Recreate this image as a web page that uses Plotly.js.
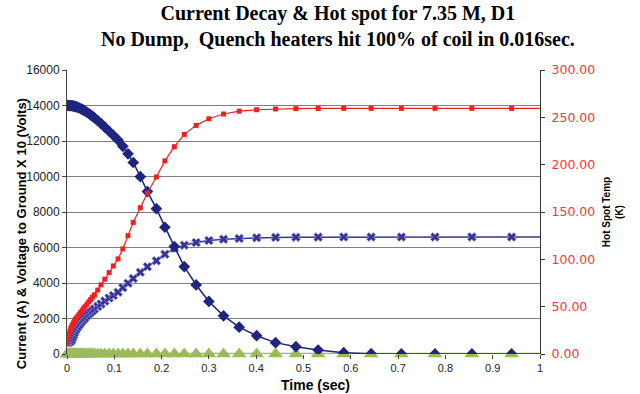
<!DOCTYPE html>
<html>
<head>
<meta charset="utf-8">
<script src="https://cdn.plot.ly/plotly-3.0.1.min.js"></script>
<style>html,body{margin:0;padding:0;background:#fff;}#chart{width:640px;height:394px;}</style>
</head>
<body>
<div id="chart"></div>
<script>
// Time (sec)
var time = [0, 0.002, 0.004, 0.006, 0.008, 0.010, 0.012, 0.014, 0.016, 0.018,
  0.020, 0.023, 0.026, 0.029, 0.032, 0.035, 0.038, 0.042, 0.046, 0.050,
  0.054, 0.058, 0.065, 0.072, 0.080, 0.089, 0.098, 0.108, 0.118, 0.129,
  0.140, 0.155, 0.170, 0.189, 0.207, 0.227, 0.248, 0.273, 0.300, 0.331,
  0.364, 0.401, 0.441, 0.484, 0.531, 0.585, 0.643, 0.707, 0.778, 0.856,
  0.940, 1.0];
// Current (A)
var current = [14000, 14000, 14000, 13995, 13990, 13985, 13975, 13965, 13950, 13935,
  13920, 13890, 13860, 13820, 13780, 13740, 13690, 13620, 13550, 13470,
  13390, 13300, 13150, 12980, 12780, 12550, 12320, 12050, 11700, 11280,
  10790, 9990, 9150, 8190, 7140, 6050, 4920, 3890, 2960, 2150,
  1510, 1030, 640, 410, 225, 75, 15, 0, 0, 0,
  0, 0];
// Voltage to ground x 10 (Volts)
var voltageX10 = [650, 650, 660, 680, 700, 790, 920, 1060, 1200, 1320,
  1420, 1540, 1650, 1760, 1860, 1950, 2040, 2150, 2250, 2350,
  2440, 2530, 2680, 2820, 2980, 3150, 3300, 3480, 3740, 3990,
  4250, 4600, 4920, 5250, 5620, 5960, 6130, 6280, 6400, 6470,
  6510, 6550, 6570, 6580, 6585, 6590, 6590, 6590, 6590, 6590,
  6590, 6590];
// Hot spot temperature (K)
var hotSpot = [11, 17, 21, 24, 27, 29, 31, 33, 35, 36.5,
  38, 40, 42, 44, 46, 48, 50, 52.5, 55, 57.5,
  60, 62.5, 67.5, 73, 79, 86, 93, 100.5, 111, 125,
  139, 154.5, 170, 187, 204, 219, 232, 241.5, 248.5, 253.5,
  256.5, 258, 258.8, 259.2, 259.4, 259.5, 259.5, 259.5, 259.5, 259.5,
  259.5, 259.5];
// Fourth series (at zero)
var other = [0, 0, 0, 0, 0, 0, 0, 0, 0, 0,
  0, 0, 0, 0, 0, 0, 0, 0, 0, 0,
  0, 0, 0, 0, 0, 0, 0, 0, 0, 0,
  0, 0, 0, 0, 0, 0, 0, 0, 0, 0,
  0, 0, 0, 0, 0, 0, 0, 0, 0, 0,
  0, 0];

var titleText = 'Current Decay &amp; Hot spot for 7.35 M, D1<br>No Dump,  Quench heaters hit 100% of coil in 0.016sec.';
var leftTitle = 'Current (A) &amp; Voltage to Ground X 10 (Volts)';
var xTitle = 'Time (sec)';
var rightTitle = 'Hot Spot Temp<br>(K)';

function sizes(s) { return time.map(function (t, i) { return i === time.length - 1 ? 0 : s; }); }

var traces = [
  { x: time, y: other, type: 'scatter', mode: 'lines+markers', cliponaxis: false,
    line: { color: '#9BBB59', width: 2.5 },
    marker: { symbol: 'triangle-up', size: sizes(13), color: '#9BBB59', opacity: 1, line: { width: 0 } }, yaxis: 'y' },
  { x: time, y: voltageX10, type: 'scatter', mode: 'lines+markers',
    line: { color: '#3B33A0', width: 1.5 },
    marker: { symbol: 'x', size: sizes(8), color: '#3B2E94', opacity: 1, line: { color: '#8DB4E2', width: 0.6 } }, yaxis: 'y' },
  { x: time, y: current, type: 'scatter', mode: 'lines+markers',
    line: { color: '#1F2480', width: 1.5 },
    marker: { symbol: 'diamond', size: sizes(9), color: '#1F2480', opacity: 1, line: { width: 0 } }, yaxis: 'y' },
  { x: time, y: hotSpot, type: 'scatter', mode: 'lines+markers',
    line: { color: '#EE2020', width: 1.2 },
    marker: { symbol: 'square', size: sizes(5), color: '#EE2020', opacity: 1, line: { width: 0 } }, yaxis: 'y2' }
];

var layout = {
  width: 640, height: 394,
  margin: { l: 67, r: 100, t: 70, b: 40 },
  paper_bgcolor: '#ffffff', plot_bgcolor: '#ffffff',
  showlegend: false,
  title: {
    text: titleText,
    font: { family: 'Liberation Serif', size: 20, color: '#000', weight: 'bold' },
    x: 0.528, xref: 'container', xanchor: 'center',
    y: 0.948, yref: 'container', yanchor: 'top'
  },
  xaxis: {
    range: [0, 1], dtick: 0.1, tick0: 0,
    showgrid: false, zeroline: false,
    showline: false, ticks: 'outside', ticklen: 4, tickcolor: '#444',
    tickfont: { family: 'Liberation Sans', size: 11, color: '#222' }
  },
  yaxis: {
    range: [0, 16000], dtick: 2000, tick0: 0, tickformat: 'd',
    showgrid: true, gridcolor: '#7f7f7f', gridwidth: 1, zeroline: false,
    showline: true, linecolor: '#444', linewidth: 1, mirror: false,
    ticks: 'outside', ticklen: 4, tickcolor: '#444',
    tickfont: { family: 'Liberation Sans', size: 12, color: '#222' }
  },
  yaxis2: {
    overlaying: 'y', side: 'right',
    range: [0, 300], dtick: 50, tick0: 0, tickformat: '.2f',
    showgrid: false, zeroline: false,
    showline: true, linecolor: '#333', linewidth: 1,
    ticks: 'outside', ticklen: 4, tickcolor: '#333', ticklabelstandoff: 4,
    tickfont: { family: 'DejaVu Sans', size: 12.5, color: '#EE3A3A' },
    title: { text: rightTitle, font: { family: 'Liberation Sans', size: 10, color: '#000', weight: 'bold' }, standoff: 8 }
  },
  annotations: [
    { text: leftTitle, xref: 'paper', yref: 'paper', x: -0.097, y: 0.4225,
      xanchor: 'center', yanchor: 'middle', textangle: -90, showarrow: false,
      font: { family: 'Liberation Sans', size: 13, color: '#000', weight: 'bold' } },
    { text: xTitle, xref: 'paper', yref: 'paper', x: 0.5246, y: -0.109,
      xanchor: 'center', yanchor: 'middle', showarrow: false,
      font: { family: 'Liberation Sans', size: 14, color: '#000', weight: 'bold' } }
  ]
};

Plotly.newPlot('chart', traces, layout, { displayModeBar: false, staticPlot: true });
</script>
</body>
</html>
